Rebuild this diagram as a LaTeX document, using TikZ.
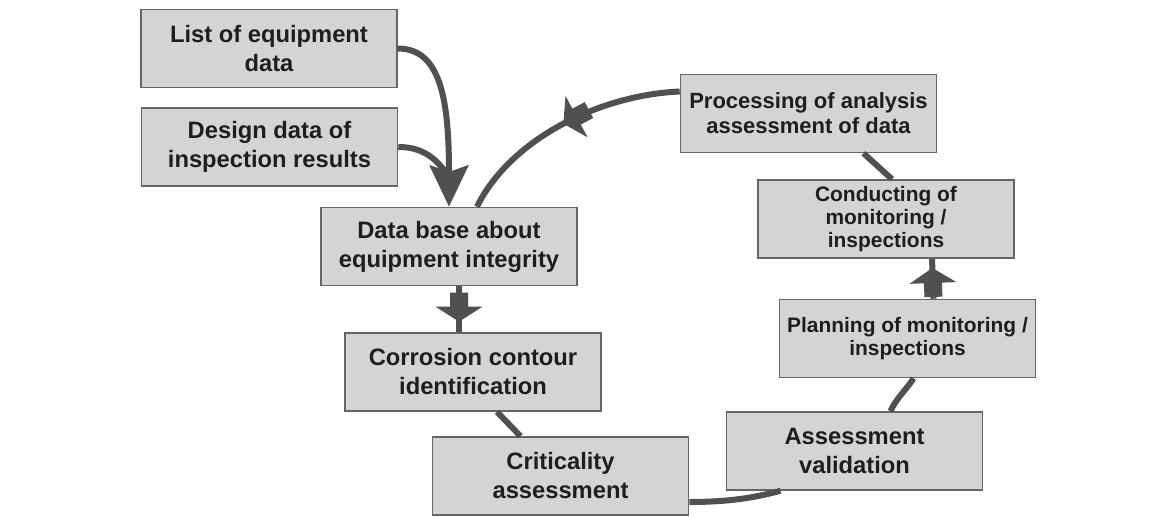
\documentclass[tikz,border=0pt]{standalone}
\usepackage{fontspec}
\setmainfont{Liberation Sans}
\usetikzlibrary{arrows.meta,calc,decorations.markings}
\definecolor{boxfill}{HTML}{D4D4D4}
\definecolor{boxline}{HTML}{666666}
\definecolor{linkcol}{HTML}{505050}
\definecolor{txt}{HTML}{1E1E1E}
\begin{document}
\begin{tikzpicture}[x=0.75pt,y=-0.75pt,
	box/.style={draw=boxline, fill=boxfill, line width=1.2pt, minimum width=192pt, minimum height=58.5pt, inner sep=0pt, align=center, text=txt, font=\bfseries\fontsize{17.8}{21.75}\selectfont},
	midbox/.style={box, font=\bfseries\fontsize{16.5}{18.75}\selectfont},
	smallbox/.style={box, font=\bfseries\fontsize{15.7}{17.5}\selectfont},
	link/.style={draw=linkcol, line width=4.5pt},
	blockarrow/.style={postaction=decorate, decoration={markings, mark=at position #1 with {\fill[linkcol] (-29,-9) -- (-15,-9) -- (-15,-23.5) -- (0,0) -- (-15,23.5) -- (-15,9) -- (-29,9) -- cycle;}}}]
	\useasboundingbox (0,0) rectangle (1166,517);
	\node [box] (list) at (269,48.5) {List of equipment\\data};
	\node [box] (design) at (269.5,147) {Design data of\\inspection results};
	\node [box] (database) at (449,246.5) {Data base about\\equipment integrity};
	\node [box] (corrosion) at (473,372) {Corrosion contour\\identification};
	\node [box] (criticality) at (560.5,476) {Criticality\\assessment};
	\node [box] (validation) at (854.5,451) {Assessment\\validation};
	\node [smallbox] (planning) at (907.5,338.5) {Planning of monitoring /\\inspections};
	\node [smallbox] (conducting) at (886,219) {Conducting of\\monitoring /\\inspections};
	\node [midbox] (processing) at (808.5,113.5) {Processing of analysis\\assessment of data};
	\coordinate (merge) at ($(database.north)+(1,-29)$);
	\draw [link, -{Stealth[length=31pt, width=29pt, inset=5pt]}] (list.east) .. controls +(43,0) and +(0,-107) .. (database.north);
	\draw [link] (design.east) .. controls +(28,0) and +(-12,-16) .. (merge);
	\draw [link, blockarrow=0.5] ($(processing.west)+(0,-22)$) .. controls +(-81,3.5) and +(33,-67) .. ($(database.north)+(28,0)$);
	\draw [link, blockarrow=0.77] ($(database.south)+(10,0)$) -- ($(corrosion.north)+(-14,0)$);
	\draw [link] ($(corrosion.south)+(24,0)$) -- ($(criticality.north)+(-40,0)$);
	\draw [link] ($(criticality.east)+(0,26)$) .. controls +(47,0) and +(-20,5) .. ($(validation.south)+(-74,0)$);
	\draw [link] ($(validation.north)+(36,0)$) .. controls +(5,-12) and +(-6,10) .. ($(planning.south)+(6,0)$);
	\draw [link, blockarrow=0.77] ($(planning.north)+(26,0)$) -- ($(conducting.south)+(46,0)$);
	\draw [link] ($(conducting.north)+(6,0)$) -- ($(processing.south)+(55,0)$);
\end{tikzpicture}
\end{document}
